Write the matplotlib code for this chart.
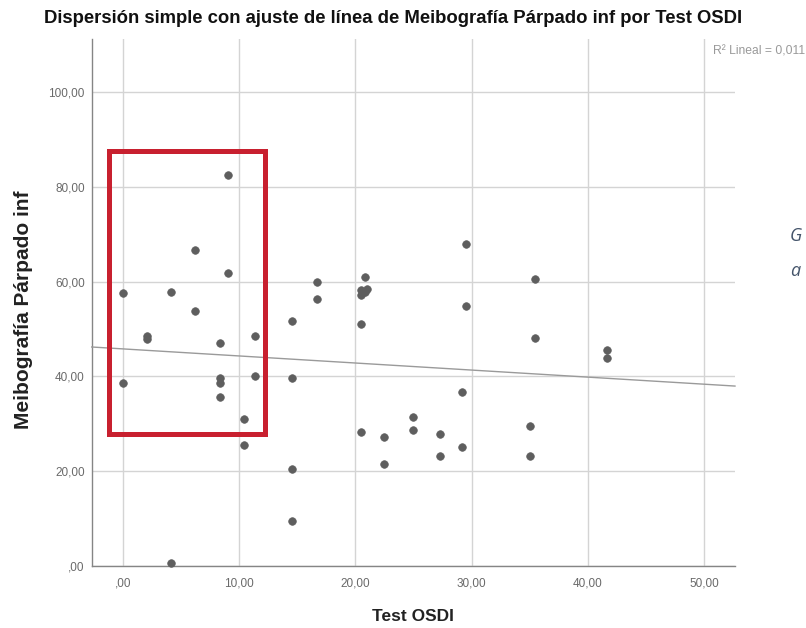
import numpy as np
import matplotlib
matplotlib.use("Agg")
import matplotlib.pyplot as plt
from matplotlib.patches import Rectangle

plt.rcParams['font.family'] = ['Liberation Sans', 'DejaVu Sans']

# Data (Test OSDI, Meibografía Párpado inf)
osdi = [9.09, 6.25, 9.09, 0.0, 4.17, 6.25, 2.08, 2.08, 8.33, 11.36,
        0.0, 8.33, 8.33, 8.33, 11.36, 10.42, 10.42,
        29.55, 16.67, 20.83, 20.45, 20.83, 20.45, 21.0, 16.67, 14.58, 20.45,
        29.55, 35.42, 35.42, 14.58, 29.17, 25.0, 25.0, 20.45, 22.5, 27.27,
        29.17, 27.27, 22.5, 35.0, 35.0, 14.58, 14.58, 41.67, 41.67, 4.17]
meibo = [82.6, 66.7, 61.8, 57.7, 57.9, 53.7, 48.5, 47.9, 47.0, 48.5,
         38.6, 39.6, 38.5, 35.7, 40.1, 30.9, 25.5,
         67.9, 59.9, 60.9, 58.2, 57.9, 57.2, 58.5, 56.3, 51.7, 51.0,
         54.9, 60.6, 48.0, 39.6, 36.6, 31.5, 28.6, 28.2, 27.1, 27.8,
         25.1, 23.2, 21.4, 29.6, 23.2, 20.4, 9.5, 45.6, 43.8, 0.6]

x_ticks = [0, 10, 20, 30, 40, 50]
x_labels = [',00', '10,00', '20,00', '30,00', '40,00', '50,00']
y_ticks = [0, 20, 40, 60, 80, 100]
y_labels = [',00', '20,00', '40,00', '60,00', '80,00', '100,00']

title = 'Dispersión simple con ajuste de línea de Meibografía Párpado inf por Test OSDI'
r2_text = 'R² Lineal = 0,011'
box_x = [-1.18, 12.2]
box_y = [27.9, 87.7]

fig = plt.figure(figsize=(8.06, 6.28), dpi=100)
fig.patch.set_facecolor('white')
ax = fig.add_axes([0.1138, 0.0987, 0.7981, 0.8392])

xlim = (-2.67, 52.66)
ylim = (-0.1, 111.3)
ax.set_xlim(*xlim)
ax.set_ylim(*ylim)

ax.set_xticks(x_ticks)
ax.set_xticklabels(x_labels)
ax.set_yticks(y_ticks)
ax.set_yticklabels(y_labels)
ax.tick_params(axis='both', length=0, labelsize=8.5, labelcolor='#6a6a6a')
ax.tick_params(axis='x', pad=8)
ax.tick_params(axis='y', pad=5)

ax.grid(True, color='#d4d4d4', linewidth=1.0)
ax.set_axisbelow(True)
for s in ['top', 'right']:
    ax.spines[s].set_visible(False)
for s in ['left', 'bottom']:
    ax.spines[s].set_color('#858585')
    ax.spines[s].set_linewidth(1.0)

# Fit line
coef = np.polyfit(osdi, meibo, 1)
xs = np.array(xlim)
ax.plot(xs, np.polyval(coef, xs), color='#9a9a9a', linewidth=1.0, zorder=3,
        clip_on=False)

ax.scatter(osdi, meibo, s=30, color='#5e5e5e', edgecolors='#5e5e5e',
           linewidths=0.5, zorder=4, clip_on=False)

rect = Rectangle((box_x[0], box_y[0]), box_x[1] - box_x[0], box_y[1] - box_y[0],
                 fill=False, edgecolor='#c8202f', linewidth=3.6, zorder=5)
ax.add_patch(rect)

ax.set_xlabel('Test OSDI', fontsize=12.5, fontweight='bold', color='#222222',
              labelpad=14)
ax.set_ylabel('Meibografía Párpado inf', fontsize=15, fontweight='bold',
              color='#222222')
ax.yaxis.set_label_coords(-0.091, 0.486)

fig.text(0.488, 0.971, title, ha='center', va='center', fontsize=13.3,
         fontweight='bold', color='#111111')
fig.text(713 / 806, 1 - 51 / 628, r2_text, ha='left', va='center',
         fontsize=8.7, color='#9a9a9a')

fig.text(790 / 806, 1 - 236 / 628, 'G', ha='left', va='center', fontsize=13,
         style='italic', color='#44546a', family=['Open Sans', 'DejaVu Sans'])
fig.text(790 / 806, 1 - 271 / 628, 'a', ha='left', va='center', fontsize=13,
         style='italic', color='#44546a', family=['Open Sans', 'DejaVu Sans'])

fig.savefig('out.png', dpi=100)
